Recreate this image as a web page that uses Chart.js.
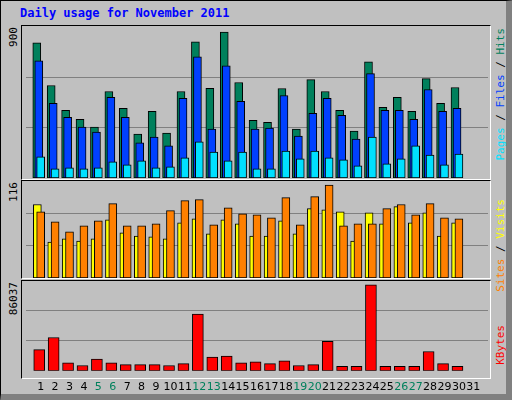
<!DOCTYPE html>
<html>
<head>
<script src="https://cdn.jsdelivr.net/npm/chart.js@4"></script>
<style>
body{margin:0;background:#c0c0c0;}
#wrap{position:relative;width:505px;height:393px;background:#c0c0c0;border-right:7px solid #808080;border-bottom:7px solid #808080;border-left:1px solid #000;border-top:1px solid #000;box-sizing:content-box;}
.frame{position:absolute;left:20px;width:470px;border-top:1px solid #000;border-left:1px solid #000;border-right:1px solid #fff;border-bottom:1px solid #fff;box-sizing:border-box;}
canvas{position:absolute;}
.t{position:absolute;font-family:"DejaVu Sans Mono",monospace;font-size:11px;white-space:nowrap;}
.v{writing-mode:vertical-rl;transform:rotate(180deg);}
</style>
</head>
<body>
<div id="wrap">
  <div class="t" style="left:19px;top:5px;color:#0000ff;font-weight:bold;font-size:12px">Daily usage for November 2011</div>
  <div class="frame" style="top:24px;height:155px"></div>
  <div class="frame" style="top:179px;height:99px"></div>
  <div class="frame" style="top:279px;height:99px"></div>
  <canvas id="c1"></canvas>
  <canvas id="c2"></canvas>
  <canvas id="c3"></canvas>
  <div class="t v" style="left:6px;top:26px;color:#000">900</div>
  <div class="t v" style="left:6px;top:181px;color:#000">116</div>
  <div class="t v" style="left:6px;top:281px;color:#000">86037</div>
  <div class="t v" style="left:493px;top:27px"><span style="color:#00e0ff">Pages</span><span style="color:#000"> / </span><span style="color:#0040ff">Files</span><span style="color:#000"> / </span><span style="color:#00805c">Hits</span></div>
  <div class="t v" style="left:493px;top:198px"><span style="color:#ff8000">Sites</span><span style="color:#000"> / </span><span style="color:#ffff00">Visits</span></div>
  <div class="t v" style="left:493px;top:324px;color:#ff0000">KBytes</div>
</div>
<script>
var days = [];
for (var i = 1; i <= 31; i++) days.push(i);
var weekends = [5, 6, 12, 13, 19, 20, 26, 27];

var hits = [809,554,405,352,305,518,417,263,400,269,518,815,537,874,572,346,334,536,293,589,518,405,281,696,423,483,400,595,447,542,0];
var files = [702,447,364,305,275,483,364,210,245,192,477,726,293,672,459,293,299,494,251,388,477,376,233,625,405,405,352,530,400,417,0];
var pages = [127,55,61,55,61,97,79,103,61,67,121,216,156,103,156,55,55,162,115,162,121,109,73,245,85,115,192,138,79,144,0];
var sites = [91.9,45,48.8,46.2,48.8,72.7,56.3,52.5,51.3,48.8,68.9,74,55.1,72.7,67.7,52.5,52.5,71.5,55.1,86.6,85.3,82.8,46.2,81.5,67.7,89.1,68.9,81.5,52.5,68.9,0];
var visits = [82.8,70.2,57.6,65.1,71.5,92.9,65.1,65.1,67.7,84.1,96.7,97.9,66.4,87.8,80.3,79,75.2,100.5,66.4,101.7,116,65.1,67.7,67.7,86.6,91.9,79,92.9,75.2,74,0];
var kbytes = [21200,33350,8100,5300,11850,8100,6230,6230,6230,5300,7170,56730,13700,14650,8100,9040,7170,9970,5300,6230,29610,4360,4360,86037,4360,4360,4360,19330,7170,4360,0];
var maxTicks = [900, 116, 86037];

function pts(arr, off) {
  return arr.map(function (v, i) { return {x: days[i] + off, y: v}; });
}
function ds(arr, off, color, w, order) {
  return {data: pts(arr, off), backgroundColor: color, borderColor: '#000', borderWidth: 1,
    borderSkipped: false, barThickness: w, grouped: false, order: order};
}
function opts(top, showX) {
  // axis range: top tick sits slightly below the frame, gridlines at thirds
  var ymax = top;
  return {
    responsive: false, animation: false,
    layout: {padding: {left: 5, right: 3, top: 0, bottom: 0}},
    plugins: {legend: {display: false}, tooltip: {enabled: false}},
    scales: {
      x: {type: 'linear', min: 0.5, max: 31.5, display: showX,
        grid: {display: false}, border: {display: false},
        afterBuildTicks: function (ax) { ax.ticks = days.map(function (d) { return {value: d}; }); },
        ticks: {autoSkip: false, maxRotation: 0, padding: 2,
          font: {family: 'DejaVu Sans', size: 11},
          color: function (c) { return weekends.indexOf(c.tick.value) >= 0 ? '#00805c' : '#000'; }}},
      y: {min: 0, max: ymax, border: {display: false},
        afterBuildTicks: function (ax) { ax.ticks = [{value: top / 3}, {value: top * 2 / 3}]; },
        grid: {color: '#808080', lineWidth: 1, drawTicks: false},
        ticks: {display: false}}
    }
  };
}
function place(id, top, h) {
  var c = document.getElementById(id);
  c.width = 470; c.height = h;
  c.style.left = '20px'; c.style.top = top + 'px';
  return c.getContext('2d');
}

new Chart(place('c1', 26, 151), {
  type: 'bar',
  data: {datasets: [ds(hits, -0.27, '#00805c', 8, 3), ds(files, -0.13, '#0040ff', 8, 2), ds(pages, 0, '#00e0ff', 8, 1)]},
  options: opts(maxTicks[0] * 1.005, false)
});
new Chart(place('c2', 180, 97), {
  type: 'bar',
  data: {datasets: [ds(sites, -0.23, '#ffff00', 8, 2), ds(visits, 0, '#ff8000', 8, 1)]},
  options: opts(maxTicks[1] * 1.045, false)
});
new Chart(place('c3', 280, 115), {
  type: 'bar',
  data: {datasets: [ds(kbytes, -0.1, '#ff0000', 11, 1)]},
  options: opts(maxTicks[2] * 1.045, true)
});
</script>
</body>
</html>
